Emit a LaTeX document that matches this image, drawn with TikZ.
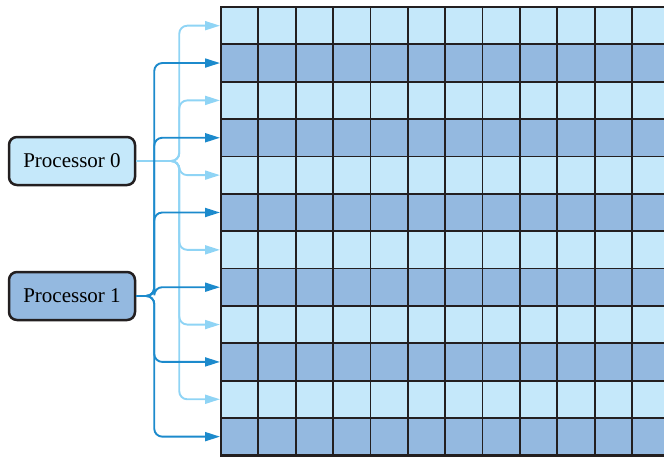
\documentclass[tikz,border=0pt]{standalone}
\usepackage{fontspec}
\setmainfont{Liberation Serif}
\usetikzlibrary{arrows.meta,positioning}
\definecolor{celllight}{RGB}{197,232,250}
\definecolor{celldark}{RGB}{148,185,224}
\definecolor{feedlight}{RGB}{143,212,245}
\definecolor{feeddark}{RGB}{28,138,204}
\definecolor{edgegray}{RGB}{35,31,32}

\begin{document}
\begin{tikzpicture}[x=1pt, y=-1pt,
    procbox/.style={draw=edgegray, line width=2.5pt, rounded corners=8pt, minimum width=126pt, minimum height=48pt, inner sep=0pt, font=\fontsize{21}{25}\selectfont},
    feed/.style={line width=1.9pt, rounded corners=8pt, -{Triangle[length=15pt,width=9pt]}}]
    \useasboundingbox (0,0) rectangle (664,456);

    % memory rows, alternating owner
    \foreach \i in {0,2,...,10}
        \fill[celllight] (221,{7+\i*37.36}) rectangle (664,{7+(\i+1)*37.36});
    \foreach \i in {1,3,...,11}
        \fill[celldark] (221,{7+\i*37.36}) rectangle (664,{7+(\i+1)*37.36});
    \foreach \j in {1,...,11}
        \draw[edgegray, line width=1.8pt] ({221+\j*37.36},7) -- ({221+\j*37.36},455.3);
    \foreach \i in {1,...,11}
        \draw[edgegray, line width=1.8pt] (221,{7+\i*37.36}) -- (664,{7+\i*37.36});
    \draw[edgegray, line width=2.8pt] (664,7) -- (221,7) -- (221,455.3) -- (664,455.3);
    \foreach \i in {0,...,11}
        \coordinate (row\i) at (220,{7+(\i+0.5)*37.36});

    \node[procbox, fill=celllight] (proc0) at (72,161) {Processor 0};
    \node[procbox, fill=celldark] (proc1) at (72,296) {Processor 1};

    \foreach \i in {0,2,...,10}
        \draw[feed, feedlight] (proc0.east) -- ++(43,0) |- (row\i);
    \foreach \i in {1,3,...,11}
        \draw[feed, feeddark] (proc1.east) -- ++(18,0) |- (row\i);
\end{tikzpicture}
\end{document}
